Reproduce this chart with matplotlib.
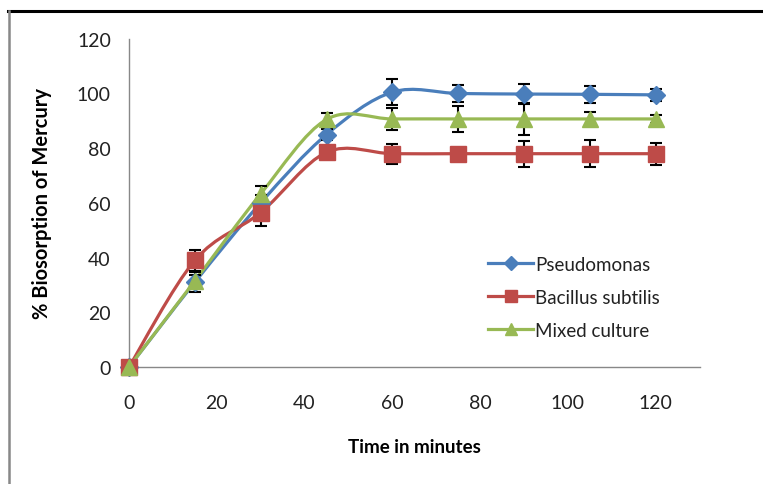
import matplotlib.pyplot as plt
import numpy as np
from matplotlib.lines import Line2D
from matplotlib.patches import PathPatch
from matplotlib.path import Path

plt.rcParams["font.family"] = ["Lato", "DejaVu Sans"]

time = [0, 15, 30, 45, 60, 75, 90, 105, 120]
pseudomonas = [0, 31, 60, 85, 100.5, 100, 99.8, 99.7, 99.5]
pseudomonas_err = [0, 3.7, 3, 2, 4.8, 3.2, 3.6, 3, 2.1]
bacillus = [0, 39, 56.5, 78.5, 78, 78, 78, 78, 78]
bacillus_err = [0, 3.7, 4.8, 1, 3.7, 1, 4.7, 5, 4]
mixed = [0, 31.5, 63.3, 90.5, 90.7, 90.7, 90.7, 90.7, 90.7]
mixed_err = [0, 2, 3, 2.2, 4, 4.7, 5.7, 2.7, 1.5]

series = [
    ("Pseudomonas", pseudomonas, pseudomonas_err, "#4A7EBB", "D", 9),
    ("Bacillus subtilis", bacillus, bacillus_err, "#BE4B48", "s", 11.5),
    ("Mixed culture", mixed, mixed_err, "#98B954", "^", 11.5),
]


def smooth_path(x, y):
    # Excel-like smoothed line: Catmull-Rom segments as cubic Bezier curves
    pts = np.column_stack((x, y)).astype(float)
    n = len(pts)
    verts = [pts[0]]
    codes = [Path.MOVETO]
    for i in range(n - 1):
        p0 = pts[max(i - 1, 0)]
        p1 = pts[i]
        p2 = pts[i + 1]
        p3 = pts[min(i + 2, n - 1)]
        c1 = p1 + (p2 - p0) / 6
        c2 = p2 - (p3 - p1) / 6
        verts += [c1, c2, p2]
        codes += [Path.CURVE4] * 3
    return Path(verts, codes)


fig = plt.figure(figsize=(7.63, 4.85), dpi=100)
ax = fig.add_axes([0.169, 0.241, 0.748, 0.677])

for name, vals, err, color, marker, ms in series:
    ax.add_patch(PathPatch(smooth_path(time, vals), facecolor="none",
                           edgecolor=color, linewidth=2.3, zorder=2))
    ax.errorbar(time, vals, yerr=err, fmt="none", ecolor="black",
                elinewidth=1.5, capsize=4, capthick=1.5, zorder=3)
    ax.plot(time, vals, linestyle="none", marker=marker, markersize=ms,
            color=color, zorder=4, clip_on=False)

handles = [
    Line2D([], [], color=c, marker=m, markersize=ms * 0.75, linewidth=2.3)
    for _, _, _, c, m, ms in series
]
ax.legend(handles, [s[0] for s in series], loc="upper left",
          bbox_to_anchor=(0.6, 0.39), frameon=False, fontsize=13.5,
          handlelength=2.4, handletextpad=0.1, labelspacing=0.85,
          labelcolor="#222222")

ax.set_xlim(0, 130)
ax.set_ylim(0, 120)
ax.set_xticks(range(0, 121, 20))
ax.set_yticks(range(0, 121, 20))
ax.tick_params(axis="both", length=0, labelsize=14, colors="#222222")
ax.tick_params(axis="x", pad=19)
ax.tick_params(axis="y", pad=13)

for side in ("top", "right"):
    ax.spines[side].set_visible(False)
for side in ("left", "bottom"):
    ax.spines[side].set_color("#888888")
    ax.spines[side].set_linewidth(1.0)

ax.set_xlabel("Time in minutes", fontsize=13.5, fontweight="bold", labelpad=20)
ax.set_ylabel("% Biosorption of Mercury", fontsize=14.5, fontweight="bold",
              labelpad=18)

# outer frame pieces of the original picture
fig.add_artist(Line2D([8 / 763, 1], [1 - 12 / 485, 1 - 12 / 485],
                      color="black", linewidth=2.2, transform=fig.transFigure))
fig.add_artist(Line2D([9 / 763, 9 / 763], [0, 1 - 12 / 485],
                      color="#888888", linewidth=1.8, transform=fig.transFigure))

fig.savefig("out.png", dpi=100, facecolor="white")
